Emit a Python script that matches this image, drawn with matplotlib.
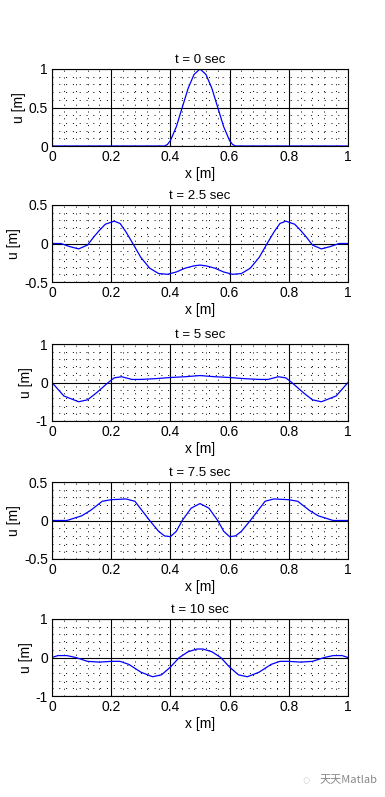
import numpy as np
import matplotlib
matplotlib.use("Agg")
import matplotlib.pyplot as plt
from matplotlib.ticker import MultipleLocator

plt.rcParams['font.family'] = ['Liberation Sans', 'DejaVu Sans']

# snapshots of the string displacement
times = ["0", "2.5", "5", "7.5", "10"]

x0 = [0, 0.38, 0.39, 0.40, 0.42, 0.44, 0.46, 0.48, 0.50, 0.52, 0.54, 0.56, 0.58, 0.60, 0.61, 0.62, 1.0]
u0 = [0, 0, 0.02, 0.07, 0.25, 0.50, 0.75, 0.93, 1.0, 0.93, 0.75, 0.50, 0.25, 0.07, 0.02, 0, 0]

x1 = [0, 0.03, 0.06, 0.09, 0.12, 0.14, 0.16, 0.18, 0.21, 0.23, 0.25, 0.27, 0.30, 0.33, 0.36, 0.39, 0.42, 0.45, 0.48, 0.50,
      0.52, 0.55, 0.58, 0.61, 0.64, 0.67, 0.70, 0.73, 0.75, 0.77, 0.79, 0.82, 0.84, 0.86, 0.88, 0.91, 0.94, 0.97, 1.0]
u1 = [0, 0, -0.04, -0.07, -0.02, 0.08, 0.17, 0.25, 0.29, 0.26, 0.15, 0.02, -0.18, -0.32, -0.39, -0.40, -0.37, -0.32, -0.29, -0.28,
      -0.29, -0.32, -0.37, -0.40, -0.39, -0.32, -0.18, 0.02, 0.15, 0.26, 0.29, 0.25, 0.17, 0.08, -0.02, -0.07, -0.04, 0, 0]

x2 = [0, 0.04, 0.09, 0.12, 0.15, 0.19, 0.21, 0.235, 0.27, 0.30, 0.35, 0.40, 0.45, 0.50,
      0.55, 0.60, 0.65, 0.70, 0.73, 0.765, 0.79, 0.81, 0.85, 0.88, 0.91, 0.96, 1.0]
u2 = [0, -0.35, -0.50, -0.45, -0.27, 0, 0.12, 0.15, 0.08, 0.08, 0.10, 0.13, 0.15, 0.18,
      0.15, 0.13, 0.10, 0.08, 0.08, 0.15, 0.12, 0, -0.27, -0.45, -0.50, -0.35, 0]

x3 = [0, 0.05, 0.10, 0.13, 0.17, 0.20, 0.25, 0.28, 0.30, 0.33, 0.36, 0.38, 0.40, 0.42, 0.44, 0.47, 0.50,
      0.53, 0.56, 0.58, 0.60, 0.62, 0.64, 0.67, 0.70, 0.72, 0.75, 0.80, 0.83, 0.87, 0.90, 0.95, 1.0]
u3 = [0, 0, 0.06, 0.13, 0.25, 0.27, 0.28, 0.25, 0.15, 0, -0.14, -0.20, -0.21, -0.14, 0, 0.16, 0.22,
      0.16, 0, -0.14, -0.21, -0.20, -0.14, 0, 0.15, 0.25, 0.28, 0.27, 0.25, 0.13, 0.06, 0, 0]

x4 = [0, 0.02, 0.05, 0.08, 0.12, 0.16, 0.20, 0.23, 0.26, 0.30, 0.34, 0.37, 0.40, 0.43, 0.46, 0.49, 0.51,
      0.54, 0.57, 0.60, 0.63, 0.66, 0.70, 0.74, 0.77, 0.80, 0.84, 0.88, 0.92, 0.95, 0.98, 1.0]
u4 = [0, 0.05, 0.05, 0, -0.10, -0.12, -0.10, -0.10, -0.18, -0.38, -0.50, -0.45, -0.25, 0, 0.15, 0.22, 0.22,
      0.15, 0, -0.25, -0.45, -0.50, -0.38, -0.18, -0.10, -0.10, -0.12, -0.10, 0, 0.05, 0.05, 0]

xs = [x0, x1, x2, x3, x4]
us = [u0, u1, u2, u3, u4]
ylims = [(0, 1), (-0.5, 0.5), (-1, 1), (-0.5, 0.5), (-1, 1)]
yticks = [[0, 0.5, 1], [-0.5, 0, 0.5], [-1, 0, 1], [-0.5, 0, 0.5], [-1, 0, 1]]
xticks = [0, 0.2, 0.4, 0.6, 0.8, 1]

fig = plt.figure(figsize=(3.85, 7.97), dpi=100)
bottoms = [146, 282, 421, 559, 696]
for i in range(5):
    ax = fig.add_axes([52/385, 1 - bottoms[i]/797, 296/385, 77/797])
    ax.plot(xs[i], us[i], color='blue', lw=0.9)
    ax.set_xlim(0, 1)
    ax.set_ylim(*ylims[i])
    ax.set_xticks(xticks)
    ax.set_xticklabels(['0', '0.2', '0.4', '0.6', '0.8', '1'])
    ax.set_yticks(yticks[i])
    ax.set_yticklabels([('%g' % v) for v in yticks[i]])
    ax.xaxis.set_minor_locator(MultipleLocator(0.04))
    ax.yaxis.set_minor_locator(MultipleLocator((ylims[i][1] - ylims[i][0]) / 10))
    ax.grid(which='major', color='black', lw=0.8, ls='-')
    ax.grid(which='minor', color='black', lw=0.7, ls=(0, (1, 6)))
    ax.set_axisbelow(True)
    ax.tick_params(which='both', direction='in', length=0, labelsize=10, pad=3)
    for s in ax.spines.values():
        s.set_color('black')
        s.set_linewidth(0.8)
    ax.set_title('t = %s sec' % times[i], fontsize=9.5, pad=4)
    ax.set_ylabel('u [m]', fontsize=10, labelpad=2)
    ax.set_xlabel('x [m]', fontsize=10, labelpad=2)

fig.text(0.83, 0.021, '天天Matlab', fontsize=8, color='#888888',
         family=['Noto Sans CJK SC', 'DejaVu Sans'], ha='left', va='center')
fig.text(0.785, 0.021, '◌', fontsize=9, color='#aaaaaa', ha='left', va='center')

fig.savefig('out.png', dpi=100)
